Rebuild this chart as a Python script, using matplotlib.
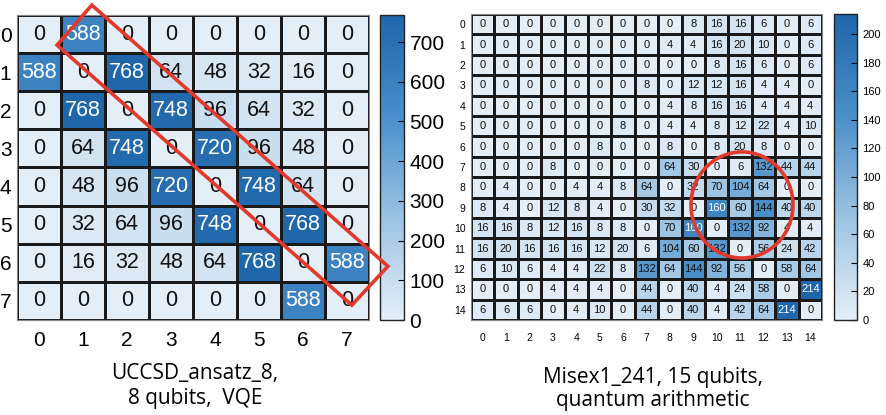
import numpy as np
import matplotlib
matplotlib.use("Agg")
import matplotlib.pyplot as plt
from matplotlib.colors import LinearSegmentedColormap
from matplotlib.patches import Polygon, Ellipse

# left: UCCSD_ansatz_8
vqe_labels = [str(i) for i in range(8)]
vqe_counts = [
    [0, 588, 0, 0, 0, 0, 0, 0],
    [588, 0, 768, 64, 48, 32, 16, 0],
    [0, 768, 0, 748, 96, 64, 32, 0],
    [0, 64, 748, 0, 720, 96, 48, 0],
    [0, 48, 96, 720, 0, 748, 64, 0],
    [0, 32, 64, 96, 748, 0, 768, 0],
    [0, 16, 32, 48, 64, 768, 0, 588],
    [0, 0, 0, 0, 0, 0, 588, 0],
]
vqe_ticks = [0, 100, 200, 300, 400, 500, 600, 700]

# right: Misex1_241
arith_labels = [str(i) for i in range(15)]
arith_counts = [
    [0, 0, 0, 0, 0, 0, 0, 0, 0, 8, 16, 16, 6, 0, 6],
    [0, 0, 0, 0, 0, 0, 0, 0, 4, 4, 16, 20, 10, 0, 6],
    [0, 0, 0, 0, 0, 0, 0, 0, 0, 0, 8, 16, 6, 0, 6],
    [0, 0, 0, 0, 0, 0, 0, 8, 0, 12, 12, 16, 4, 4, 0],
    [0, 0, 0, 0, 0, 0, 0, 0, 4, 8, 16, 16, 4, 4, 4],
    [0, 0, 0, 0, 0, 0, 8, 0, 4, 4, 8, 12, 22, 4, 10],
    [0, 0, 0, 0, 0, 8, 0, 0, 8, 0, 8, 20, 8, 0, 0],
    [0, 0, 0, 8, 0, 0, 0, 0, 64, 30, 0, 6, 132, 44, 44],
    [0, 4, 0, 0, 4, 4, 8, 64, 0, 32, 70, 104, 64, 0, 0],
    [8, 4, 0, 12, 8, 4, 0, 30, 32, 0, 160, 60, 144, 40, 40],
    [16, 16, 8, 12, 16, 8, 8, 0, 70, 160, 0, 132, 92, 4, 4],
    [16, 20, 16, 16, 16, 12, 20, 6, 104, 60, 132, 0, 56, 24, 42],
    [6, 10, 6, 4, 4, 22, 8, 132, 64, 144, 92, 56, 0, 58, 64],
    [0, 0, 0, 4, 4, 4, 0, 44, 0, 40, 4, 24, 58, 0, 214],
    [6, 6, 6, 0, 4, 10, 0, 44, 0, 40, 4, 42, 64, 214, 0],
]
arith_ticks = [0, 20, 40, 60, 80, 100, 120, 140, 160, 180, 200]

cmap = LinearSegmentedColormap.from_list(
    "soft_blues", ["#e4eef7", "#9cc3e2", "#4a8fca", "#1f66ab"])
RED = "#e2392d"
TICK_FONT = "Liberation Sans"


def draw_heatmap(fig, rect, cbar_rect, data, labels, cticks, fs_cell, fs_tick, fs_cbar, xpad):
    data = np.array(data)
    n = len(labels)
    ax = fig.add_axes(rect)
    vmax = data.max()
    mesh = ax.pcolormesh(np.arange(n + 1) - 0.5, np.arange(n + 1) - 0.5, data,
                         cmap=cmap, vmin=0, vmax=vmax,
                         edgecolors="#1a1a1a", linewidth=0.9)
    ax.set_xlim(-0.5, n - 0.5)
    ax.set_ylim(n - 0.5, -0.5)
    ax.set_xticks(range(n))
    ax.set_yticks(range(n))
    ax.set_xticklabels(labels, fontsize=fs_tick, family=TICK_FONT)
    ax.set_yticklabels(labels, fontsize=fs_tick, family=TICK_FONT)
    ax.tick_params(length=0, pad=4)
    ax.tick_params(axis="x", pad=xpad)
    for s in ax.spines.values():
        s.set_color("#888888")
        s.set_linewidth(0.8)
    for i in range(n):
        for j in range(n):
            v = data[i, j]
            c = "white" if v > 0.7 * vmax else "#111111"
            ax.text(j, i, str(v), ha="center", va="center", color=c,
                    fontsize=fs_cell, family=TICK_FONT)
    cax = fig.add_axes(cbar_rect)
    cb = fig.colorbar(mesh, cax=cax)
    cb.set_ticks(cticks)
    cb.ax.tick_params(direction="in", length=4, width=0.8, labelsize=fs_cbar, pad=4)
    for t in cb.ax.get_yticklabels():
        t.set_family(TICK_FONT)
    cb.outline.set_linewidth(1.0)
    cb.outline.set_edgecolor("#222222")
    return ax


W, H = 887, 415
fig = plt.figure(figsize=(W / 100, H / 100), dpi=100)


def frac(x0, y0, x1, y1):
    return [x0 / W, 1 - y1 / H, (x1 - x0) / W, (y1 - y0) / H]


ax_l = draw_heatmap(fig, frac(17, 15, 369, 320), frac(380, 15, 404, 320),
                    vqe_counts, vqe_labels, vqe_ticks, 15.5, 15, 15, 8)
ax_r = draw_heatmap(fig, frac(471, 14, 822, 320), frac(834, 14, 857, 320),
                    arith_counts, arith_labels, arith_ticks, 8, 7.5, 8, 9)

# highlight of the near-diagonal band on the left (drawn above the colorbar)
band = Polygon([(1.20, -0.76), (0.41, 0.29), (7.11, 7.11), (7.93, 6.09)],
               closed=True, fill=False, edgecolor=RED, linewidth=2.6,
               transform=ax_l.transData, zorder=10)
fig.add_artist(band)

# circled cluster on the right
ring = Ellipse((11.08, 8.86), 4.36, 5.2, fill=False, edgecolor=RED,
               linewidth=2.6, transform=ax_r.transData, zorder=10)
fig.add_artist(ring)

fig.text(195 / W, 1 - 386 / H, "UCCSD_ansatz_8,\n8 qubits,  VQE", ha="center",
         va="center", fontsize=15, family="Open Sans", linespacing=1.3)
fig.text(653 / W, 1 - 389 / H, "Misex1_241, 15 qubits,\nquantum arithmetic",
         ha="center", va="center", fontsize=15, family="Open Sans", linespacing=1.15)

fig.savefig("out.png", dpi=100)
